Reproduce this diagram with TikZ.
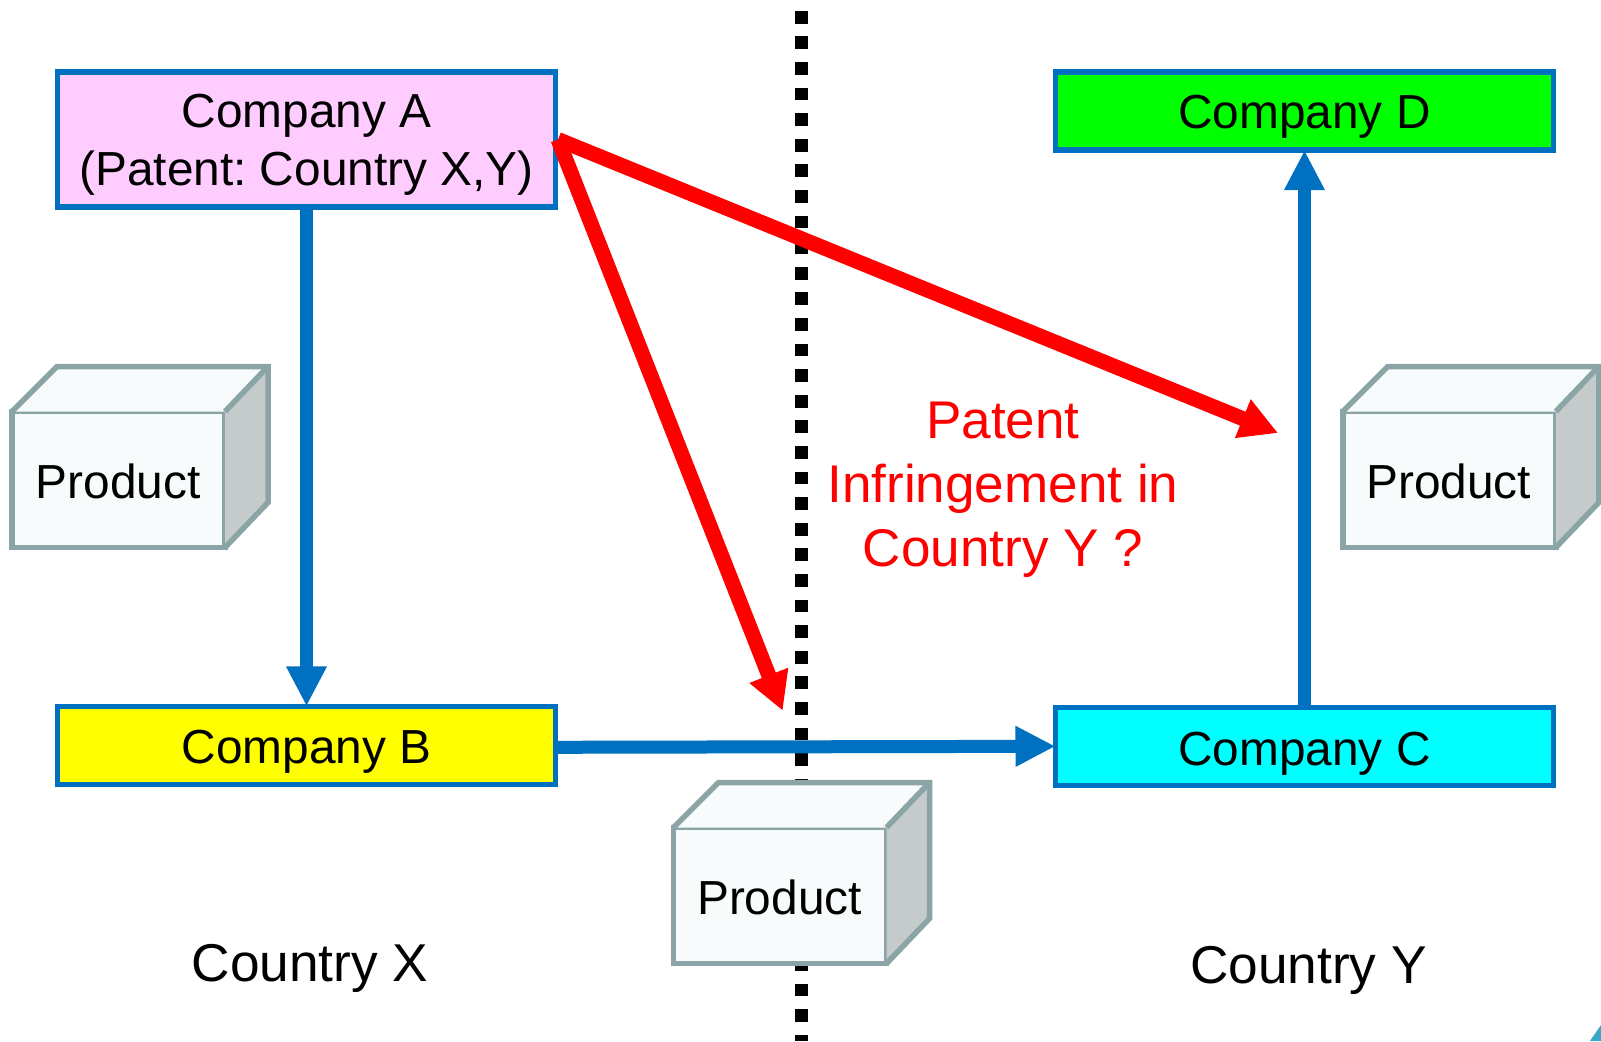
\documentclass[tikz,border=0pt]{standalone}
\usepackage{fontspec}
\setmainfont{Liberation Sans}
\usetikzlibrary{arrows.meta}

\definecolor{linkblue}{HTML}{0070C0}
\definecolor{boxedge}{HTML}{8BA5A7}
\definecolor{boxface}{HTML}{F7FBFC}
\definecolor{boxside}{HTML}{C5CACA}
\definecolor{cornerteal}{HTML}{3AA6C8}
\definecolor{fillA}{HTML}{FFCCFF}
\definecolor{fillB}{HTML}{FFFF00}
\definecolor{fillC}{HTML}{00FFFF}
\definecolor{fillD}{HTML}{00FF00}

\tikzset{
  company/.style={draw=linkblue,line width=.055cm,minimum width=4.98cm,outer sep=0pt,inner sep=0pt},
  companytext/.style={align=center,font=\fontsize{13.6}{16.4}\selectfont},
  supply/.style={draw=linkblue,line width=.13cm,-{Triangle[length=.40cm,width=.38cm]}},
  infringe/.style={draw=red,line width=.15cm,-{Triangle[length=.38cm,width=.39cm]}},
  product/.style={draw=boxedge,fill=boxface,line width=.055cm,minimum width=2.13cm,minimum height=1.36cm,outer sep=0pt,inner sep=0pt},
  country/.style={font=\fontsize{15.15}{18}\selectfont}
}

\begin{document}
\frenchspacing
\begin{tikzpicture}
  \useasboundingbox (0,0) rectangle (16.01,10.41);

  \coordinate (bordertop) at (8.017,10.303);
  \coordinate (borderbottom) at (8.017,0);
  \draw[line width=.13cm,dash pattern=on .128cm off .128cm] (bordertop) -- (borderbottom);

  \node[company,fill=fillA,minimum height=1.35cm] (companyA) at (3.065,9.015) {};
  \node[company,fill=fillB,minimum height=.78cm] (companyB) at (3.065,2.957) {};
  \node[company,fill=fillC,minimum height=.78cm] (companyC) at (13.045,2.947) {};
  \node[company,fill=fillD,minimum height=.78cm] (companyD) at (13.045,9.298) {};

  \node[companytext] (labelA) at ([yshift=-.055cm]companyA.center) {Company A\\(Patent: Country X,Y)};
  \node[companytext] (labelB) at ([yshift=-.06cm]companyB.center) {Company B};
  \node[companytext] (labelC) at ([yshift=-.07cm]companyC.center) {Company C};
  \node[companytext] (labelD) at ([yshift=-.06cm]companyD.center) {Company D};

  \foreach \name/\px/\py in {productX/1.185/5.615,productY/14.493/5.615,productM/7.80/1.455} {
    \node[product] (\name) at (\px,\py) {};
    \fill[boxface] (\name.north west) -- ++(.45,.45) -- ++(2.11,0) -- (\name.north east) -- cycle;
    \fill[boxside] (\name.north east) -- ++(.43,.45) -- ++(0,-1.36) -- (\name.south east) -- cycle;
    \draw[draw=boxedge,line width=.055cm,line join=miter] (\name.north west) -- ++(.45,.45) -- ++(2.11,0) -- ++(0,-1.36) -- (\name.south east);
    \draw[draw=boxedge,line width=.055cm] (\name.north east) -- ++(.43,.45);
    \node[font=\fontsize{13.6}{16.4}\selectfont] (\name text) at ([yshift=-.02cm,xshift=-.005cm]\name.center) {Product};
  }

  \draw[supply] (companyA.south) -- (companyB.north);
  \draw[supply] ([yshift=-.02cm]companyB.east) -- (companyC.west);
  \draw[supply] (companyC.north) -- (companyD.south);

  \coordinate (tipmiddle) at (7.827,3.303);
  \coordinate (tipright) at (12.78,6.08);
  \draw[infringe] ([xshift=.025cm]companyA.east) -- (tipmiddle);
  \draw[infringe] ([xshift=.025cm]companyA.east) -- (tipright);

  \node[text=red,align=center,font=\fontsize{15.1}{18.2}\selectfont] (question) at (10.03,5.51) {Patent\\Infringement in\\Country Y ?};

  \node[country] (countryX) at (3.10,.73) {Country X};
  \node[country] (countryY) at (13.085,.71) {Country Y};

  % scrap of a shape cut off by the corner
  \fill[cornerteal] (15.90,0) -- (16.01,.16) -- (16.01,0) -- cycle;
\end{tikzpicture}
\end{document}
